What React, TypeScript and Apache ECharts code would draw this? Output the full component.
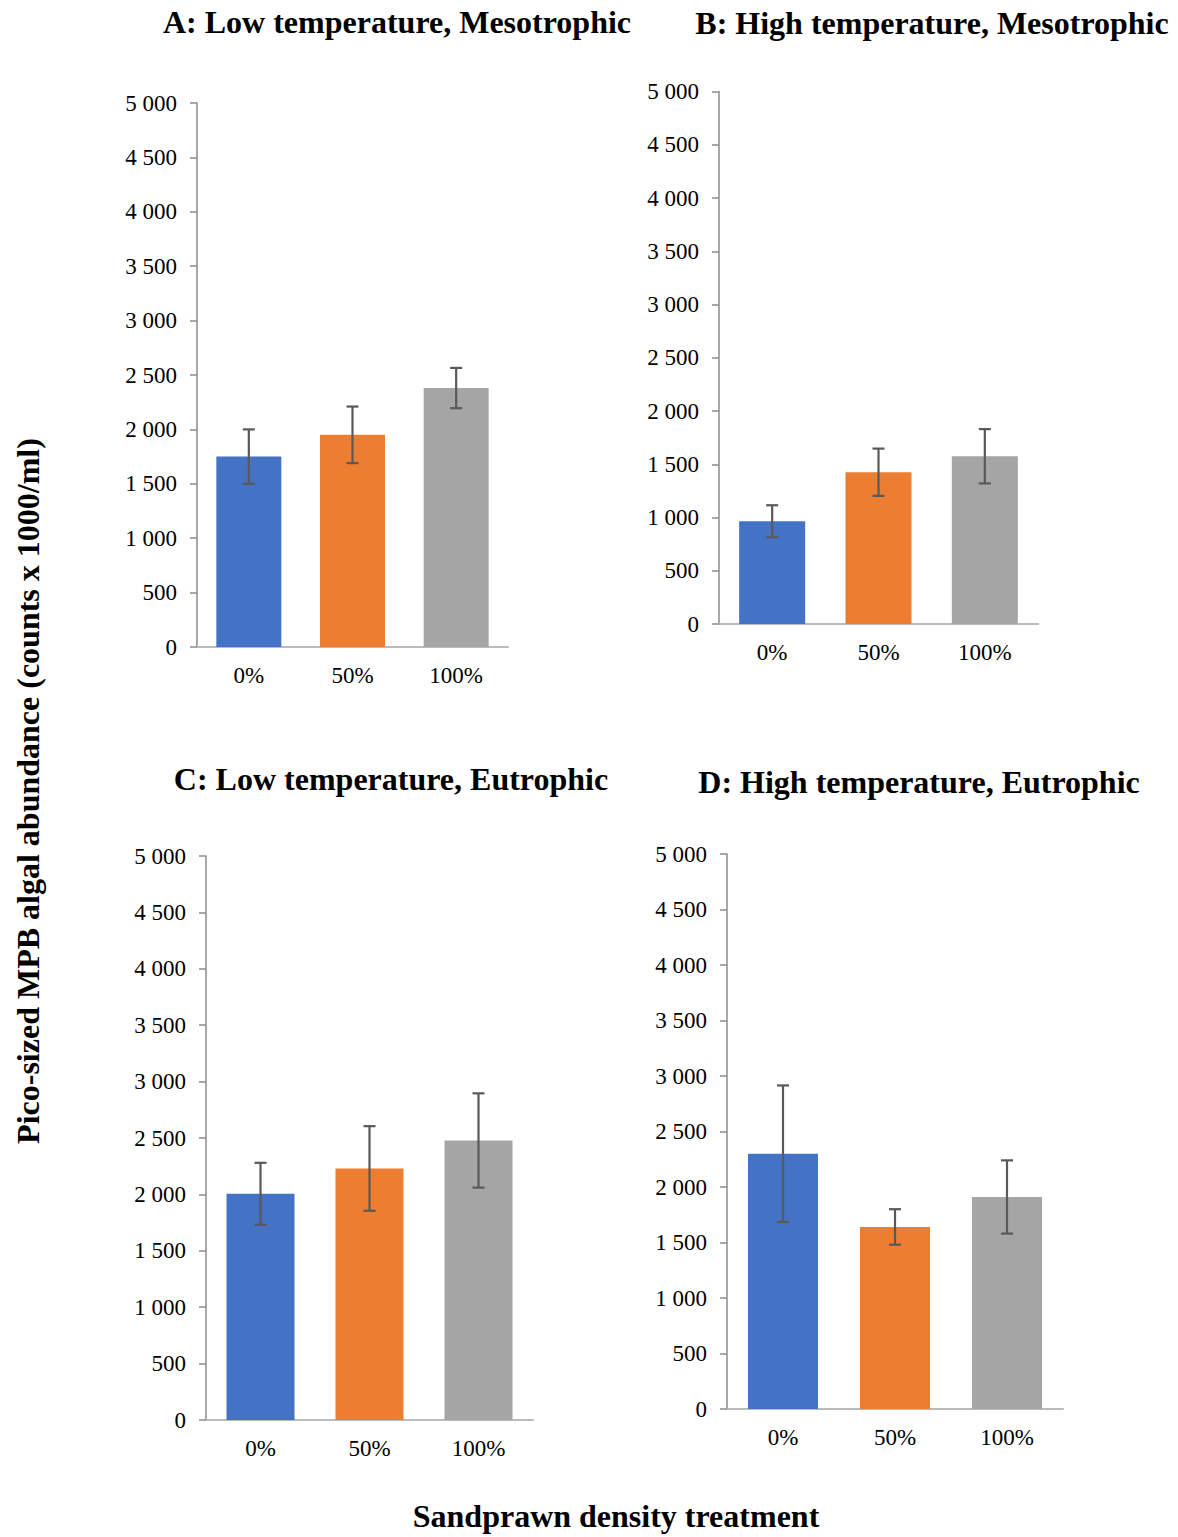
import React, { useEffect, useRef } from "react";
import * as echarts from "echarts";

const categories = ["0%", "50%", "100%"];
const barColors = ["#4472C4", "#ED7D31", "#A5A5A5"];

const panelTitles = [
  "A: Low temperature, Mesotrophic",
  "B: High temperature, Mesotrophic",
  "C: Low temperature, Eutrophic",
  "D: High temperature, Eutrophic",
];

const meansA = [1750, 1950, 2380];
const errA = [250, 260, 185];
const meansB = [965, 1425, 1575];
const errB = [150, 222, 255];
const meansC = [2005, 2230, 2478];
const errC = [275, 375, 418];
const meansD = [2300, 1640, 1910];
const errD = [615, 160, 330];

const yMin = 0;
const yMax = 5000;
const yInterval = 500;

const yTitle = "Pico-sized MPB algal abundance (counts x 1000/ml)";
const xTitle = "Sandprawn density treatment";

const FONT = "Liberation Serif";

export default function App() {
  const ref = useRef<HTMLDivElement>(null);

  useEffect(() => {
    if (!ref.current) return;
    const chart = echarts.init(ref.current, undefined, { renderer: "svg" });

    const panels = [
      { means: meansA, err: errA, grid: { left: 197, top: 103, width: 311, height: 544 }, barWidth: 65, title: { x: 397, y: 22 } },
      { means: meansB, err: errB, grid: { left: 719, top: 91.5, width: 319, height: 532.5 }, barWidth: 66, title: { x: 932, y: 23 } },
      { means: meansC, err: errC, grid: { left: 206, top: 856, width: 327, height: 564 }, barWidth: 68, title: { x: 391, y: 779 } },
      { means: meansD, err: errD, grid: { left: 727, top: 854, width: 336, height: 555 }, barWidth: 70, title: { x: 919, y: 782 } },
    ];

    const labelStyle = { color: "#000", fontFamily: FONT, fontSize: 23 };

    const grids = panels.map((p) => ({ ...p.grid, containLabel: false }));
    const xAxes = panels.map((_, i) => ({
      type: "category",
      gridIndex: i,
      data: categories,
      boundaryGap: true,
      axisLine: { show: true, lineStyle: { color: "#BBBBBB", width: 2 } },
      axisTick: { show: false },
      axisLabel: { ...labelStyle, margin: 17, interval: 0 },
      splitLine: { show: false },
    }));
    const yAxes = panels.map((_, i) => ({
      type: "value",
      gridIndex: i,
      min: yMin,
      max: yMax,
      interval: yInterval,
      axisLine: { show: true, lineStyle: { color: "#8C8C8C", width: 1.5 } },
      axisTick: { show: true, length: 7, lineStyle: { color: "#8C8C8C", width: 1.5 } },
      axisLabel: {
        ...labelStyle,
        margin: 20,
        formatter: (v: number) => {
          const s = String(v);
          return s.length > 3 ? s.slice(0, s.length - 3) + " " + s.slice(s.length - 3) : s;
        },
      },
      splitLine: { show: false },
    }));

    const series: any[] = [];
    panels.forEach((p, i) => {
      series.push({
        type: "bar",
        xAxisIndex: i,
        yAxisIndex: i,
        barWidth: p.barWidth,
        data: p.means.map((v, j) => ({ value: v, itemStyle: { color: barColors[j] } })),
      });
      series.push({
        type: "custom",
        xAxisIndex: i,
        yAxisIndex: i,
        encode: { x: 0, y: [1, 2] },
        data: p.means.map((v, j) => [j, v - p.err[j], v + p.err[j]]),
        z: 10,
        renderItem: (params: any, api: any) => {
          const x = api.value(0);
          const lo = api.coord([x, api.value(1)]);
          const hi = api.coord([x, api.value(2)]);
          const w = 6;
          const style = { stroke: "#595959", lineWidth: 2.2 };
          return {
            type: "group",
            children: [
              { type: "line", shape: { x1: hi[0], y1: hi[1], x2: lo[0], y2: lo[1] }, style },
              { type: "line", shape: { x1: hi[0] - w, y1: hi[1], x2: hi[0] + w, y2: hi[1] }, style },
              { type: "line", shape: { x1: lo[0] - w, y1: lo[1], x2: lo[0] + w, y2: lo[1] }, style },
            ],
          };
        },
      });
    });

    const titleStyle = {
      fontFamily: FONT,
      fontSize: 32,
      fontWeight: "bold",
      fill: "#000",
      align: "center",
      verticalAlign: "middle",
    };
    const graphics: any[] = panels.map((p, i) => ({
      type: "text",
      x: p.title.x,
      y: p.title.y,
      style: { ...titleStyle, text: panelTitles[i] },
    }));
    graphics.push({
      type: "text",
      x: 28,
      y: 791,
      rotation: Math.PI / 2,
      style: { ...titleStyle, text: yTitle },
    });
    graphics.push({
      type: "text",
      x: 616,
      y: 1516,
      style: { ...titleStyle, text: xTitle },
    });

    chart.setOption({
      animation: false,
      backgroundColor: "#fff",
      textStyle: { fontFamily: FONT },
      grid: grids,
      xAxis: xAxes,
      yAxis: yAxes,
      series,
      graphic: graphics,
    });

    return () => chart.dispose();
  }, []);

  return (
    <div
      ref={ref}
      style={{ position: "absolute", left: 0, top: 0, width: 1178, height: 1537 }}
    />
  );
}
